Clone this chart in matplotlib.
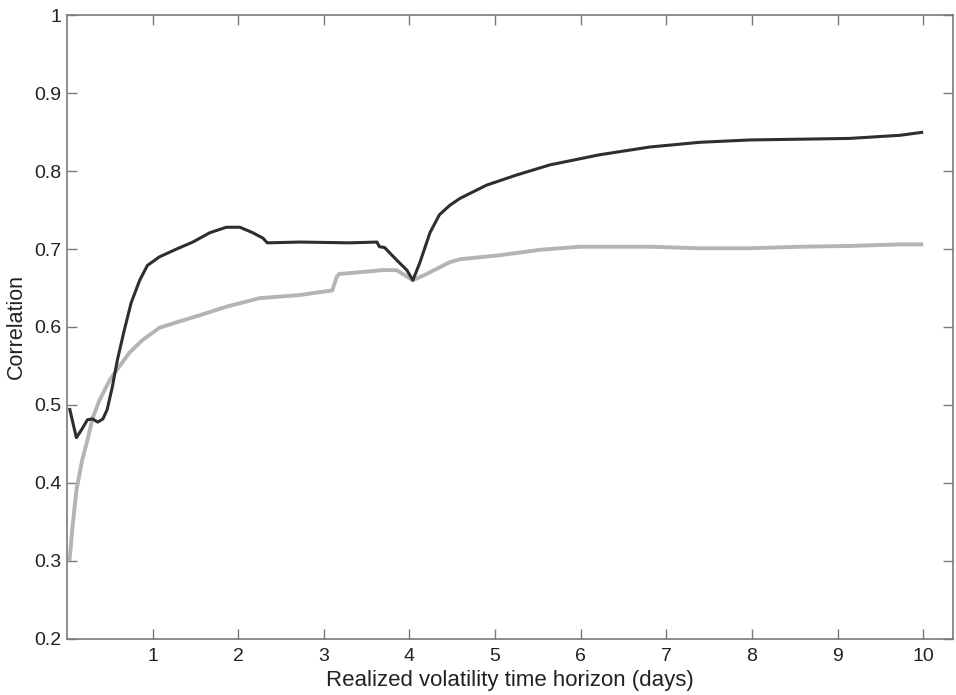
import matplotlib
matplotlib.use("Agg")
import matplotlib.pyplot as plt

plt.rcParams["font.family"] = ["Liberation Sans", "DejaVu Sans"]

# realized volatility horizon (days) and correlation, first series (dark)
x_dark = [0.03, 0.11, 0.17, 0.24, 0.30, 0.36, 0.42, 0.47, 0.53, 0.59, 0.67,
          0.75, 0.85, 0.94, 1.08, 1.28, 1.47, 1.67, 1.86, 2.02, 2.17, 2.29,
          2.34, 2.72, 3.30, 3.62, 3.65, 3.71, 3.85, 3.97, 4.04, 4.12, 4.24,
          4.35, 4.47, 4.59, 4.90, 5.25, 5.64, 6.22, 6.81, 7.39, 7.97, 8.56,
          9.14, 9.73, 10.0]
y_dark = [0.496, 0.458, 0.468, 0.481, 0.482, 0.478, 0.482, 0.494, 0.523, 0.558,
          0.596, 0.631, 0.660, 0.679, 0.690, 0.700, 0.709, 0.721, 0.728, 0.728,
          0.721, 0.714, 0.708, 0.709, 0.708, 0.709, 0.703, 0.702, 0.686, 0.673,
          0.660, 0.682, 0.721, 0.744, 0.756, 0.765, 0.782, 0.795, 0.808, 0.821,
          0.831, 0.837, 0.840, 0.841, 0.842, 0.846, 0.850]

# second series (light grey)
x_grey = [0.03, 0.065, 0.11, 0.18, 0.24, 0.30, 0.38, 0.50, 0.61, 0.73, 0.88,
          1.08, 1.28, 1.55, 1.86, 2.25, 2.72, 3.10, 3.15, 3.18, 3.69, 3.85,
          4.04, 4.20, 4.47, 4.59, 5.05, 5.52, 5.99, 6.46, 6.81, 7.39, 7.97,
          8.56, 9.14, 9.73, 10.0]
y_grey = [0.300, 0.343, 0.390, 0.430, 0.455, 0.483, 0.506, 0.532, 0.549, 0.567,
          0.583, 0.599, 0.606, 0.615, 0.626, 0.637, 0.641, 0.647, 0.664, 0.668,
          0.673, 0.673, 0.660, 0.668, 0.683, 0.687, 0.692, 0.699, 0.703, 0.703,
          0.703, 0.701, 0.701, 0.703, 0.704, 0.706, 0.706]

x_ticks = [1, 2, 3, 4, 5, 6, 7, 8, 9, 10]
y_ticks = [0.2, 0.3, 0.4, 0.5, 0.6, 0.7, 0.8, 0.9, 1.0]
y_ticklabels = ["0.2", "0.3", "0.4", "0.5", "0.6", "0.7", "0.8", "0.9", "1"]

fig = plt.figure(figsize=(9.56, 6.95), dpi=100)
ax = fig.add_axes([0.070, 0.081, 0.927, 0.897])

ax.plot(x_grey, y_grey, color="#b4b4b4", linewidth=2.8, solid_capstyle="butt")
ax.plot(x_dark, y_dark, color="#2e2e2e", linewidth=2.2, solid_capstyle="butt")

ax.set_xlim(0, 10.35)
ax.set_ylim(0.2, 1.0)
ax.set_xticks(x_ticks)
ax.set_yticks(y_ticks)
ax.set_yticklabels(y_ticklabels)

spine_color = "#7a7a7a"
for s in ax.spines.values():
    s.set_color(spine_color)
    s.set_linewidth(1.2)
ax.tick_params(direction="in", length=7, width=1.0, color=spine_color,
               top=True, right=True, labelsize=14, labelcolor="#222222")
ax.tick_params(axis="x", pad=7)
ax.tick_params(axis="y", pad=4)

ax.set_xlabel("Realized volatility time horizon (days)", fontsize=16,
              color="#222222", labelpad=3)
ax.set_ylabel("Correlation", fontsize=15.5, color="#222222", labelpad=5)

fig.savefig("out.png", dpi=100)
